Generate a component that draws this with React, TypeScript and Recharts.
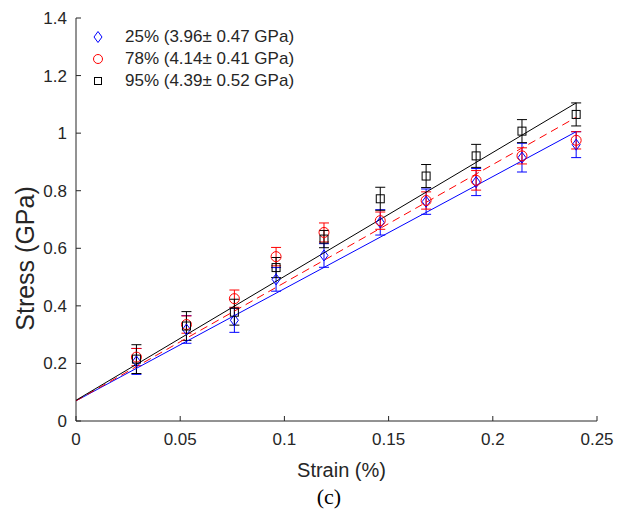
import React from "react";
import { ComposedChart, Scatter, XAxis, YAxis, ErrorBar } from "recharts";

// strain (%) where each group of measurements sits
const strain = [0.029, 0.053, 0.076, 0.096, 0.119, 0.146, 0.168, 0.192, 0.214, 0.24];

// 25% series (blue diamonds)
const stress25 = [0.207, 0.318, 0.35, 0.492, 0.575, 0.69, 0.762, 0.83, 0.915, 0.96];
const err25 = [0.045, 0.048, 0.042, 0.041, 0.041, 0.044, 0.044, 0.047, 0.05, 0.045];

// 78% series (red circles)
const stress78 = [0.222, 0.335, 0.425, 0.571, 0.655, 0.696, 0.766, 0.836, 0.921, 0.975];
const err78 = [0.03, 0.03, 0.03, 0.032, 0.033, 0.03, 0.03, 0.034, 0.028, 0.03];

// 95% series (black squares)
const stress95 = [0.215, 0.33, 0.378, 0.533, 0.632, 0.772, 0.851, 0.921, 1.007, 1.065];
const err95 = [0.05, 0.05, 0.045, 0.035, 0.03, 0.04, 0.04, 0.04, 0.04, 0.04];

// linear fits, end points
const fitStrain = [0, 0.24];
const fit25 = [0.07, 1.005];
const fit78 = [0.07, 1.055];
const fit95 = [0.072, 1.105];

const xTicks = [0, 0.05, 0.1, 0.15, 0.2, 0.25];
const yTicks = [0, 0.2, 0.4, 0.6, 0.8, 1, 1.2, 1.4];

const names = ["25% (3.96\u00b1 0.47 GPa)", "78% (4.14\u00b1 0.41 GPa)", "95% (4.39\u00b1 0.52 GPa)"];

const BLUE = "#0000ff";
const RED = "#ff0000";
const BLACK = "#000000";
const AXIS = "#262626";
const FONT = "'Liberation Sans', Arial, sans-serif";

const pts = (ys: number[], es: number[]) => strain.map((x, i) => ({ x, y: ys[i], e: es[i] }));
const fit = (ys: number[]) => fitStrain.map((x, i) => ({ x, y: ys[i] }));

const Diamond = (p: any) => (
  <polygon
    points={`${p.cx},${p.cy - 5.5} ${p.cx + 4},${p.cy} ${p.cx},${p.cy + 5.5} ${p.cx - 4},${p.cy}`}
    fill="none"
    stroke={BLUE}
  />
);
const Circle = (p: any) => <circle cx={p.cx} cy={p.cy} r={5} fill="none" stroke={RED} />;
const Square = (p: any) => <rect x={p.cx - 4} y={p.cy - 4} width={8} height={8} fill="none" stroke={BLACK} />;
const NoDot = () => <g />;

const legendMarks = [
  <polygon key="d" points="5,-0.5 9,5 5,10.5 1,5" fill="none" stroke={BLUE} />,
  <circle key="c" cx={5} cy={5} r={4.5} fill="none" stroke={RED} />,
  <rect key="s" x={1.5} y={1.5} width={7} height={7} fill="none" stroke={BLACK} />,
];

function LegendBox() {
  return (
    <div style={{ position: "absolute", left: 92, top: 26, fontFamily: FONT, fontSize: 17, color: AXIS }}>
      {names.map((n, i) => (
        <div key={n} style={{ display: "flex", alignItems: "center", height: 22 }}>
          <svg width={12} height={14} viewBox="-1 -2 12 14" style={{ marginRight: 21 }}>
            {legendMarks[i]}
          </svg>
          <span>{n}</span>
        </div>
      ))}
    </div>
  );
}

export default function App() {
  const tickStyle = { fill: AXIS, fontSize: 17, fontFamily: FONT };
  return (
    <div style={{ position: "absolute", left: 0, top: 0, width: 628, height: 510, background: "#fff" }}>
      <ComposedChart width={628} height={510} margin={{ top: 18, right: 31, bottom: 29, left: 20 }}>
        <XAxis
          dataKey="x"
          type="number"
          domain={[0, 0.25]}
          ticks={xTicks}
          height={60}
          stroke={AXIS}
          tickSize={-5}
          tickMargin={17}
          tick={tickStyle}
          allowDataOverflow
          label={{
            content: (p: any) => (
              <text
                x={p.viewBox.x + p.viewBox.width / 2 + 5}
                y={p.viewBox.y + 56}
                textAnchor="middle"
                fill={AXIS}
                fontSize={20}
                fontFamily={FONT}
              >
                Strain (%)
              </text>
            ),
          }}
        />
        <XAxis xAxisId="top" orientation="top" type="number" domain={[0, 0.25]} ticks={xTicks} height={0} stroke={AXIS} tickSize={-5} tick={false} />
        <YAxis
          dataKey="y"
          type="number"
          domain={[0, 1.4]}
          ticks={yTicks}
          width={56}
          stroke={AXIS}
          tickSize={-5}
          tickMargin={14}
          tick={tickStyle}
          allowDataOverflow
          label={{
            content: (p: any) => {
              const cx = p.viewBox.x + 5;
              const cy = p.viewBox.y + p.viewBox.height / 2 + 39;
              return (
                <text
                  x={cx}
                  y={cy}
                  transform={`rotate(-90, ${cx}, ${cy})`}
                  textAnchor="middle"
                  dominantBaseline="central"
                  fill={AXIS}
                  fontSize={25}
                  fontFamily={FONT}
                >
                  Stress (GPa)
                </text>
              );
            },
          }}
        />
        <YAxis yAxisId="right" orientation="right" type="number" domain={[0, 1.4]} ticks={yTicks} width={0} stroke={AXIS} tickSize={-5} tick={false} />

        <Scatter data={fit(fit25)} line={{ stroke: BLUE, strokeWidth: 1 }} shape={NoDot} isAnimationActive={false} />
        <Scatter data={fit(fit78)} line={{ stroke: RED, strokeWidth: 1, strokeDasharray: "8 5" }} shape={NoDot} isAnimationActive={false} />
        <Scatter data={fit(fit95)} line={{ stroke: BLACK, strokeWidth: 1 }} shape={NoDot} isAnimationActive={false} />

        <Scatter data={pts(stress25, err25)} shape={Diamond} isAnimationActive={false}>
          <ErrorBar dataKey="e" direction="y" width={5} stroke={BLUE} strokeWidth={1} isAnimationActive={false} />
        </Scatter>
        <Scatter data={pts(stress78, err78)} shape={Circle} isAnimationActive={false}>
          <ErrorBar dataKey="e" direction="y" width={5} stroke={RED} strokeWidth={1} isAnimationActive={false} />
        </Scatter>
        <Scatter data={pts(stress95, err95)} shape={Square} isAnimationActive={false}>
          <ErrorBar dataKey="e" direction="y" width={5} stroke={BLACK} strokeWidth={1} isAnimationActive={false} />
        </Scatter>
      </ComposedChart>
      <LegendBox />
      <div
        style={{
          position: "absolute",
          left: 0,
          width: 658,
          top: 486,
          height: 22,
          lineHeight: "22px",
          textAlign: "center",
          fontFamily: "'Liberation Serif', 'Times New Roman', serif",
          fontSize: 22,
          color: "#000",
        }}
      >
        (c)
      </div>
    </div>
  );
}
